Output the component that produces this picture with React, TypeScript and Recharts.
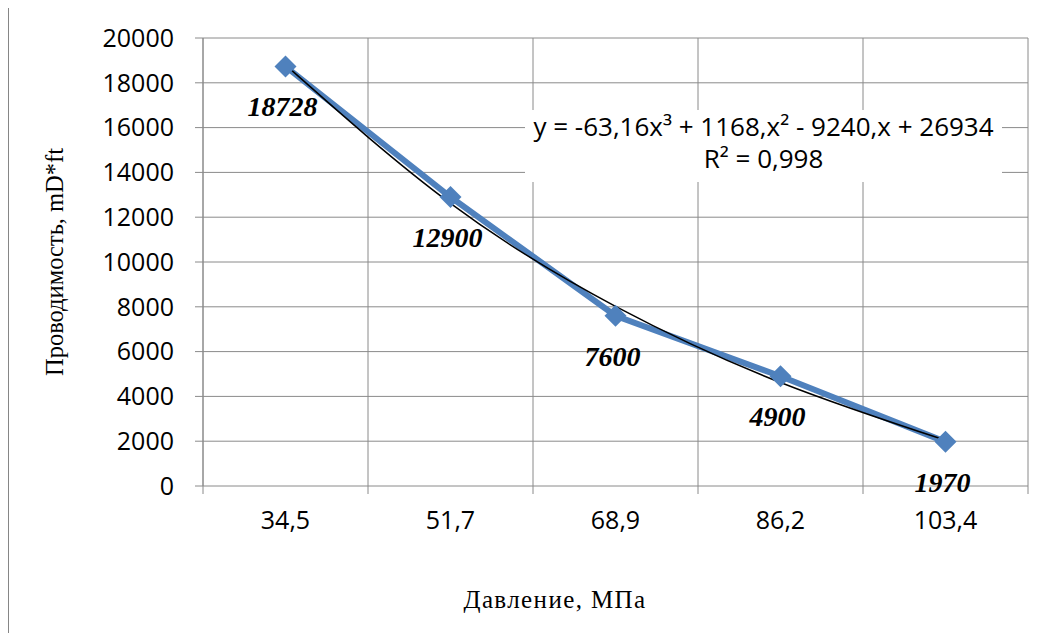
import React from 'react'
import { LineChart, Line, XAxis, YAxis, CartesianGrid, LabelList } from 'recharts'

const pressures = ['34,5', '51,7', '68,9', '86,2', '103,4']
const conductivity = [18728, 12900, 7600, 4900, 1970]
// polynomial trendline at each category
const trendValues = [18800, 12620, 8020, 4620, 2040]
const yTicks = [0, 2000, 4000, 6000, 8000, 10000, 12000, 14000, 16000, 18000, 20000]

const data = pressures.map((p, i) => ({
  p,
  value: conductivity[i],
  trend: trendValues[i],
}))

const GRID = '#8a8a8a'
const BLUE = '#4f81bd'
const SANS = '"Open Sans", sans-serif'
const SERIF = '"Liberation Serif", "Times New Roman", serif'

function Diamond(props: any) {
  const { cx, cy } = props
  if (cx == null || cy == null) return null
  const r = 11
  return (
    <polygon
      points={`${cx},${cy - r} ${cx + r},${cy} ${cx},${cy + r} ${cx - r},${cy}`}
      fill={BLUE}
    />
  )
}

function PressureTick(props: any) {
  const { x, y, payload, index, width } = props
  const band = (width || 825) / pressures.length
  const left = x - band / 2
  return (
    <g>
      <line x1={left} x2={left} y1={y} y2={y + 8} stroke={GRID} />
      {index === pressures.length - 1 && (
        <line x1={x + band / 2} x2={x + band / 2} y1={y} y2={y + 8} stroke={GRID} />
      )}
      <text x={x} y={y + 43} textAnchor="middle" fontFamily={SANS} fontSize={25} fill="#000">
        {payload.value}
      </text>
    </g>
  )
}

function ValueLabel(props: any) {
  const { x, y, value } = props
  return (
    <text
      x={x - 3}
      y={y + 50}
      textAnchor="middle"
      fontFamily={SERIF}
      fontSize={28}
      fontWeight="bold"
      fontStyle="italic"
      fill="#000"
    >
      {value}
    </text>
  )
}

export default function App() {
  return (
    <div style={{ width: 1045, height: 626, overflow: 'hidden', marginTop: -1 }}>
      <div style={{ position: 'relative', width: 1100, height: 700, border: '1px solid #868686', background: '#fff' }}>
        <LineChart
          width={1044}
          height={626}
          data={data}
          margin={{ top: 30, right: 25, left: 0, bottom: 0 }}
        >
          <CartesianGrid
            stroke={GRID}
            verticalCoordinatesGenerator={({ offset }: any) =>
              Array.from({ length: pressures.length + 1 }, (_, i) => offset.left + (i * offset.width) / pressures.length)
            }
          />
          <XAxis
            dataKey="p"
            height={148}
            axisLine={false}
            tickLine={false}
            tickSize={0}
            tickMargin={0}
            interval={0}
            padding={{ left: 82.5, right: 82.5 }}
            tick={<PressureTick />}
            label={{
              content: () => (
                <text x={546} y={600} textAnchor="middle" fontFamily={SERIF} fontSize={25} letterSpacing={1.4} fill="#000">
                  Давление, МПа
                </text>
              ),
            }}
          />
          <YAxis
            width={194}
            domain={[0, 20000]}
            ticks={yTicks}
            interval={0}
            axisLine={{ stroke: GRID }}
            tickLine={{ stroke: GRID }}
            tickSize={8}
            tickMargin={21}
            tick={{ fontFamily: SANS, fontSize: 25, fill: '#000' }}
            label={{
              content: () => (
                <text
                  x={54}
                  y={254}
                  transform="rotate(-90, 54, 254)"
                  textAnchor="middle"
                  fontFamily={SERIF}
                  fontSize={24.5}
                  fill="#000"
                >
                  Проводимость, mD*ft
                </text>
              ),
            }}
          />
          <Line
            dataKey="value"
            stroke={BLUE}
            strokeWidth={6}
            dot={<Diamond />}
            activeDot={false}
            isAnimationActive={false}
          >
            <LabelList dataKey="value" content={<ValueLabel />} />
          </Line>
          <Line
            dataKey="trend"
            type="natural"
            stroke="#000"
            strokeWidth={1.5}
            dot={false}
            activeDot={false}
            isAnimationActive={false}
          />
        </LineChart>
        <div
          style={{
            position: 'absolute',
            left: 516,
            top: 102,
            width: 477,
            height: 72,
            background: '#fff',
            fontFamily: SANS,
            fontSize: 26,
            lineHeight: '32px',
            textAlign: 'center',
            color: '#000',
            whiteSpace: 'nowrap',
          }}
        >
          <div>y = -63,16x³ + 1168,x² - 9240,x + 26934</div>
          <div>R² = 0,998</div>
        </div>
      </div>
    </div>
  )
}
